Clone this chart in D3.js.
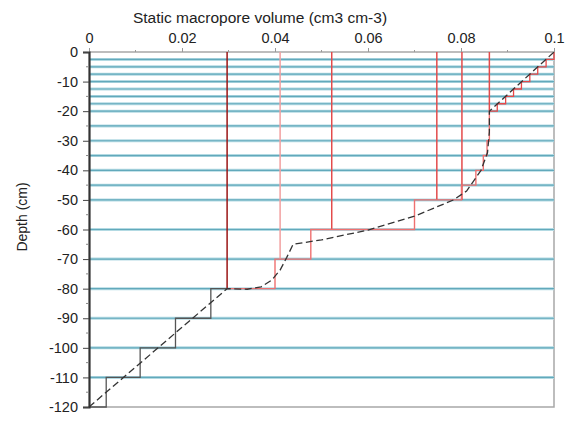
<!DOCTYPE html>
<html><head><meta charset="utf-8">
<script src="https://cdn.jsdelivr.net/npm/d3@7"></script>
<style>body{margin:0;background:#fff}svg{display:block;font-family:"Liberation Sans",Arial,sans-serif}</style>
</head><body><svg id="c" width="576" height="421"></svg>
<script>
const xTicks = [0, 0.02, 0.04, 0.06, 0.08, 0.1];
const xTickLabels = ["0", "0.02", "0.04", "0.06", "0.08", "0.1"];
const xMinorTicks = [0.01, 0.03, 0.05, 0.07, 0.09];
const yTicks = [0, -10, -20, -30, -40, -50, -60, -70, -80, -90, -100, -110, -120];
const yTickLabels = ["0", "-10", "-20", "-30", "-40", "-50", "-60", "-70", "-80", "-90", "-100", "-110", "-120"];
const yMinorTicks = [-5, -15, -25, -35, -45, -55, -65, -75, -85, -95, -105, -115];
const layerDepths = [-2.5, -5, -7.5, -10, -12.5, -15, -17.5, -20, -25, -30, -35, -40, -45, -50, -60, -70, -80, -90, -100, -110];
const redLineX = [0.0297, 0.0411, 0.0522, 0.0748, 0.0802, 0.0861];
const redLineDepth = [-80, -70, -60, -50, -50, -20];
const blackStepX = [0, 0.0037, 0.011, 0.0186, 0.0262, 0.0297];
const blackStepDepth = [-120, -110, -100, -90, -80];
const redStepX = [0.0297, 0.0400, 0.0477, 0.0700, 0.0801, 0.0832, 0.0848, 0.0856, 0.0861];
const redStepDepth = [-80, -70, -60, -50, -45, -40, -35, -30, -20];
const topStepX = [0.0861, 0.0878, 0.0896, 0.0913, 0.0930, 0.0948, 0.0965, 0.0983, 0.1000];
const topStepDepth = [-20, -17.5, -15, -12.5, -10, -7.5, -5, -2.5, 0];
const curveX = [0, 0.0297, 0.034, 0.037, 0.0393, 0.0411, 0.0425, 0.0439, 0.050, 0.060, 0.070, 0.0784, 0.0812, 0.0843, 0.0857, 0.0861, 0.0861, 0.1];
const curveDepth = [-120, -80, -80.2, -79.4, -77.1, -73.7, -69.5, -65, -63.5, -60.2, -55.5, -50, -47, -40, -34, -27, -20, 0];

const svg = d3.select("#c");
const x = d3.scaleLinear().domain([0, 0.1]).range([89, 554]);
const y = d3.scaleLinear().domain([0, -120]).range([52, 407]);

// plot frame (top, right, bottom)
svg.append("path").attr("d", `M${x(0)},${y(0)}H${x(0.1)}V${y(-120)}H${x(0)}`)
  .attr("fill", "none").attr("stroke", "#a8a8a8").attr("stroke-width", 1.5);

// horizontal layer lines
const lg = svg.append("g");
lg.selectAll("line.h1").data(layerDepths).join("line")
  .attr("x1", x(0)).attr("x2", x(0.1)).attr("y1", d => y(d)).attr("y2", d => y(d))
  .attr("stroke", "#b3dae3").attr("stroke-width", 3);
lg.selectAll("line.h2").data(layerDepths).join("line")
  .attr("x1", x(0)).attr("x2", x(0.1)).attr("y1", d => y(d)).attr("y2", d => y(d))
  .attr("stroke", "#62a9bb").attr("stroke-width", 1.2);

// red vertical lines
const redCols = ["#9b1515", "#f2a0a0", "#e34b4b", "#e34b4b", "#e34b4b", "#e34b4b"];
svg.append("g").selectAll("line").data(redLineX).join("line")
  .attr("x1", d => x(d)).attr("x2", d => x(d))
  .attr("y1", y(0)).attr("y2", (d, i) => y(redLineDepth[i]))
  .attr("stroke", (d, i) => redCols[i]).attr("stroke-width", 1.5);

const line = d3.line().x(d => x(d[0])).y(d => y(d[1]));

// black staircase
const bpts = [];
for (let i = 0; i < blackStepDepth.length; i++) {
  bpts.push([blackStepX[i], blackStepDepth[i]]);
  bpts.push([blackStepX[i + 1], blackStepDepth[i]]);
}
svg.append("path").attr("d", line(bpts)).attr("fill", "none")
  .attr("stroke", "#555").attr("stroke-width", 1.3);

// red staircase (mid)
const rpts = [];
for (let i = 0; i < redStepDepth.length; i++) {
  rpts.push([redStepX[i], redStepDepth[i]]);
  if (i + 1 < redStepX.length) rpts.push([redStepX[i + 1], redStepDepth[i]]);
}
svg.append("path").attr("d", line(rpts)).attr("fill", "none")
  .attr("stroke", "#ef7070").attr("stroke-width", 1.4);

// red staircase (top)
const tpts = [];
for (let i = 0; i < topStepDepth.length - 1; i++) {
  tpts.push([topStepX[i], topStepDepth[i]]);
  tpts.push([topStepX[i + 1], topStepDepth[i]]);
}
tpts.push([topStepX[topStepX.length - 1], 0]);
svg.append("path").attr("d", line(tpts)).attr("fill", "none")
  .attr("stroke", "#e84848").attr("stroke-width", 1.3);

// dashed fitted curve
svg.append("path").attr("d", line(curveX.map((v, i) => [v, curveDepth[i]])))
  .attr("fill", "none").attr("stroke", "#333").attr("stroke-width", 1.3)
  .attr("stroke-dasharray", "7,3.5");

// top axis
const xa = svg.append("g").attr("transform", `translate(0,${y(0)})`)
  .call(d3.axisTop(x).tickValues(xTicks).tickSize(4).tickPadding(5).tickFormat((d, i) => xTickLabels[i]));
xa.select(".domain").remove();
xa.selectAll("line").attr("stroke", "#999");
xa.selectAll("text").attr("font-size", 14.5).attr("fill", "#222").attr("font-family", "Liberation Sans, Arial, sans-serif");
svg.append("g").selectAll("line").data(xMinorTicks).join("line")
  .attr("x1", d => x(d)).attr("x2", d => x(d)).attr("y1", y(0) - 2).attr("y2", y(0))
  .attr("stroke", "#999");

// left axis
const ya = svg.append("g").attr("transform", `translate(${x(0)},0)`)
  .call(d3.axisLeft(y).tickValues(yTicks).tickSize(6).tickPadding(5).tickFormat((d, i) => yTickLabels[i]));
ya.select(".domain").attr("stroke", "#333").attr("stroke-width", 2.2);
ya.selectAll("line").attr("stroke", "#444");
ya.selectAll("text").attr("font-size", 14.5).attr("fill", "#222").attr("font-family", "Liberation Sans, Arial, sans-serif");
svg.append("g").selectAll("line").data(yMinorTicks).join("line")
  .attr("x1", x(0) - 3).attr("x2", x(0)).attr("y1", d => y(d)).attr("y2", d => y(d))
  .attr("stroke", "#888");

// titles
svg.append("text").attr("x", 260).attr("y", 23).attr("text-anchor", "middle")
  .attr("font-size", 15.5).attr("fill", "#222").text("Static macropore volume (cm3 cm-3)");
svg.append("text").attr("transform", "translate(27,217) rotate(-90)").attr("text-anchor", "middle")
  .attr("font-size", 14).attr("fill", "#222").text("Depth (cm)");
</script></body></html>
